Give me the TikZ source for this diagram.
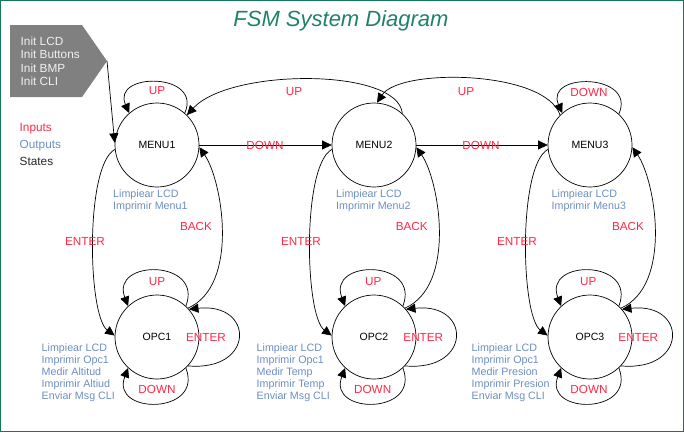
\documentclass[tikz,border=0pt]{standalone}
\usepackage{fontspec}
\setmainfont{Liberation Sans}
\usetikzlibrary{arrows.meta}
\definecolor{inred}{RGB}{255,40,70}
\definecolor{outblue}{RGB}{108,142,191}
\definecolor{titleteal}{RGB}{30,130,105}
\definecolor{frameteal}{RGB}{20,120,95}
\definecolor{initgray}{RGB}{128,128,128}
\begin{document}
\begin{tikzpicture}[x=1pt,y=-1pt,
  state/.style={circle,draw,line width=0.7pt,minimum size=84pt,inner sep=0pt,font=\fontsize{10.5}{12}\selectfont},
  edge/.style={line width=0.7pt,-{Triangle[length=9.5pt,width=9pt]}},
  inlab/.style={text=inred,font=\fontsize{11.7}{14}\selectfont,inner sep=0pt},
  outlab/.style={text=outblue,font=\fontsize{10.7}{12}\selectfont,align=left,anchor=north west,inner sep=0pt},
]
\useasboundingbox (0,0) rectangle (684,432);
\draw[frameteal,line width=1.2pt] (0.6,0.6) rectangle (683.4,431.4);

\node[anchor=base,font=\fontsize{22}{26}\selectfont\itshape,text=titleteal] (title) at (341,26) {FSM System Diagram};

% init block
\fill[initgray] (10,25) -- (82,25) -- (107,61) -- (82,97) -- (10,97) -- cycle;
\coordinate (inittip) at (107,61);
\node[anchor=north west,inner sep=0pt,align=left,text=white!94!black,font=\fontsize{11.8}{13.4}\selectfont] (init) at (20.5,36.6) {Init LCD\\Init Buttons\\Init BMP\\Init CLI};

% legend
\node[anchor=north west,inner sep=0pt,align=left,font=\fontsize{11.8}{17}\selectfont] (legend) at (19.5,123.5) {\textcolor{inred}{Inputs}\\\textcolor{outblue}{Outputs}\\\textcolor{black!85}{States}};

% states
\node[state] (M1) at (157,145) {MENU1};
\node[state] (M2) at (374,145) {MENU2};
\node[state] (M3) at (590,145) {MENU3};
\node[state] (O1) at (157,337) {OPC1};
\node[state] (O2) at (374,337) {OPC2};
\node[state] (O3) at (590,337) {OPC3};

% init arrow
\draw[edge] (inittip) -- (M1.177);

% menu row
\draw[edge] (M1.49) .. controls +(18,-41) and +(-18,-41) .. (M1.131);
\draw[edge] (M3.47) .. controls +(18,-41) and +(-18,-41) .. (M3.131);
\draw[edge] (M2.48) .. controls +(-4,-46) and +(43,-47) .. (M1.45);
\draw[edge] (M3.135) .. controls +(-15,-45) and +(23,-35) .. (M2.86);
\draw[edge] (M1.east) -- (M2.west);
\draw[edge] (M2.east) -- (M3.west);

\node[inlab] (lup1) at (157,91) {UP};
\node[inlab] (lup12) at (294,92) {UP};
\node[inlab] (lup23) at (466,92) {UP};
\node[inlab] (ldown3) at (589,92) {DOWN};
\node[inlab] (ldown12) at (265,145) {DOWN};
\node[inlab] (ldown23) at (481,145) {DOWN};

% columns
\foreach \i in {1,2,3}{
  \draw[edge] (M\i.186) .. controls +(-30,16) and +(-27,-20) .. (O\i.178);
  \draw[edge] (O\i.43) .. controls +(52,-23) and +(23,33) .. (M\i.-3);
  \draw[edge] (O\i.47) .. controls +(18,-47) and +(-18,-47) .. (O\i.133);
  \draw[edge] (O\i.-43) .. controls +(67,6) and +(66,-7) .. (O\i.41);
  \draw[edge] (O\i.-47) .. controls +(18,47) and +(-18,47) .. (O\i.-133);
}

\node[inlab] (lent1) at (85,241) {ENTER};
\node[inlab] (lback1) at (196,226) {BACK};
\node[inlab] (loup1) at (157,282) {UP};
\node[inlab] (loent1) at (206,337) {ENTER};
\node[inlab] (lodown1) at (157,389) {DOWN};

\node[inlab] (lent2) at (301,241) {ENTER};
\node[inlab] (lback2) at (411.7,226) {BACK};
\node[inlab] (loup2) at (373.3,282) {UP};
\node[inlab] (loent2) at (423.3,337) {ENTER};
\node[inlab] (lodown2) at (372.7,389) {DOWN};

\node[inlab] (lent3) at (517,241) {ENTER};
\node[inlab] (lback3) at (628,226) {BACK};
\node[inlab] (loup3) at (588.3,282) {UP};
\node[inlab] (loent3) at (638.3,337) {ENTER};
\node[inlab] (lodown3) at (589,389) {DOWN};

% outputs
\node[outlab] (out1) at (113,189.2) {Limpiear LCD\\Imprimir Menu1};
\node[outlab] (out2) at (336,189.2) {Limpiear LCD\\Imprimir Menu2};
\node[outlab] (out3) at (551.5,189.2) {Limpiear LCD\\Imprimir Menu3};
\node[outlab] (oout1) at (41.5,343.2) {Limpiear LCD\\Imprimir Opc1\\Medir Altitud\\Imprimir Altiud\\Enviar Msg CLI};
\node[outlab] (oout2) at (256.5,343.2) {Limpiear LCD\\Imprimir Opc1\\Medir Temp\\Imprimir Temp\\Enviar Msg CLI};
\node[outlab] (oout3) at (471.5,343.2) {Limpiear LCD\\Imprimir Opc1\\Medir Presion\\Imprimir Presion\\Enviar Msg CLI};
\end{tikzpicture}
\end{document}
